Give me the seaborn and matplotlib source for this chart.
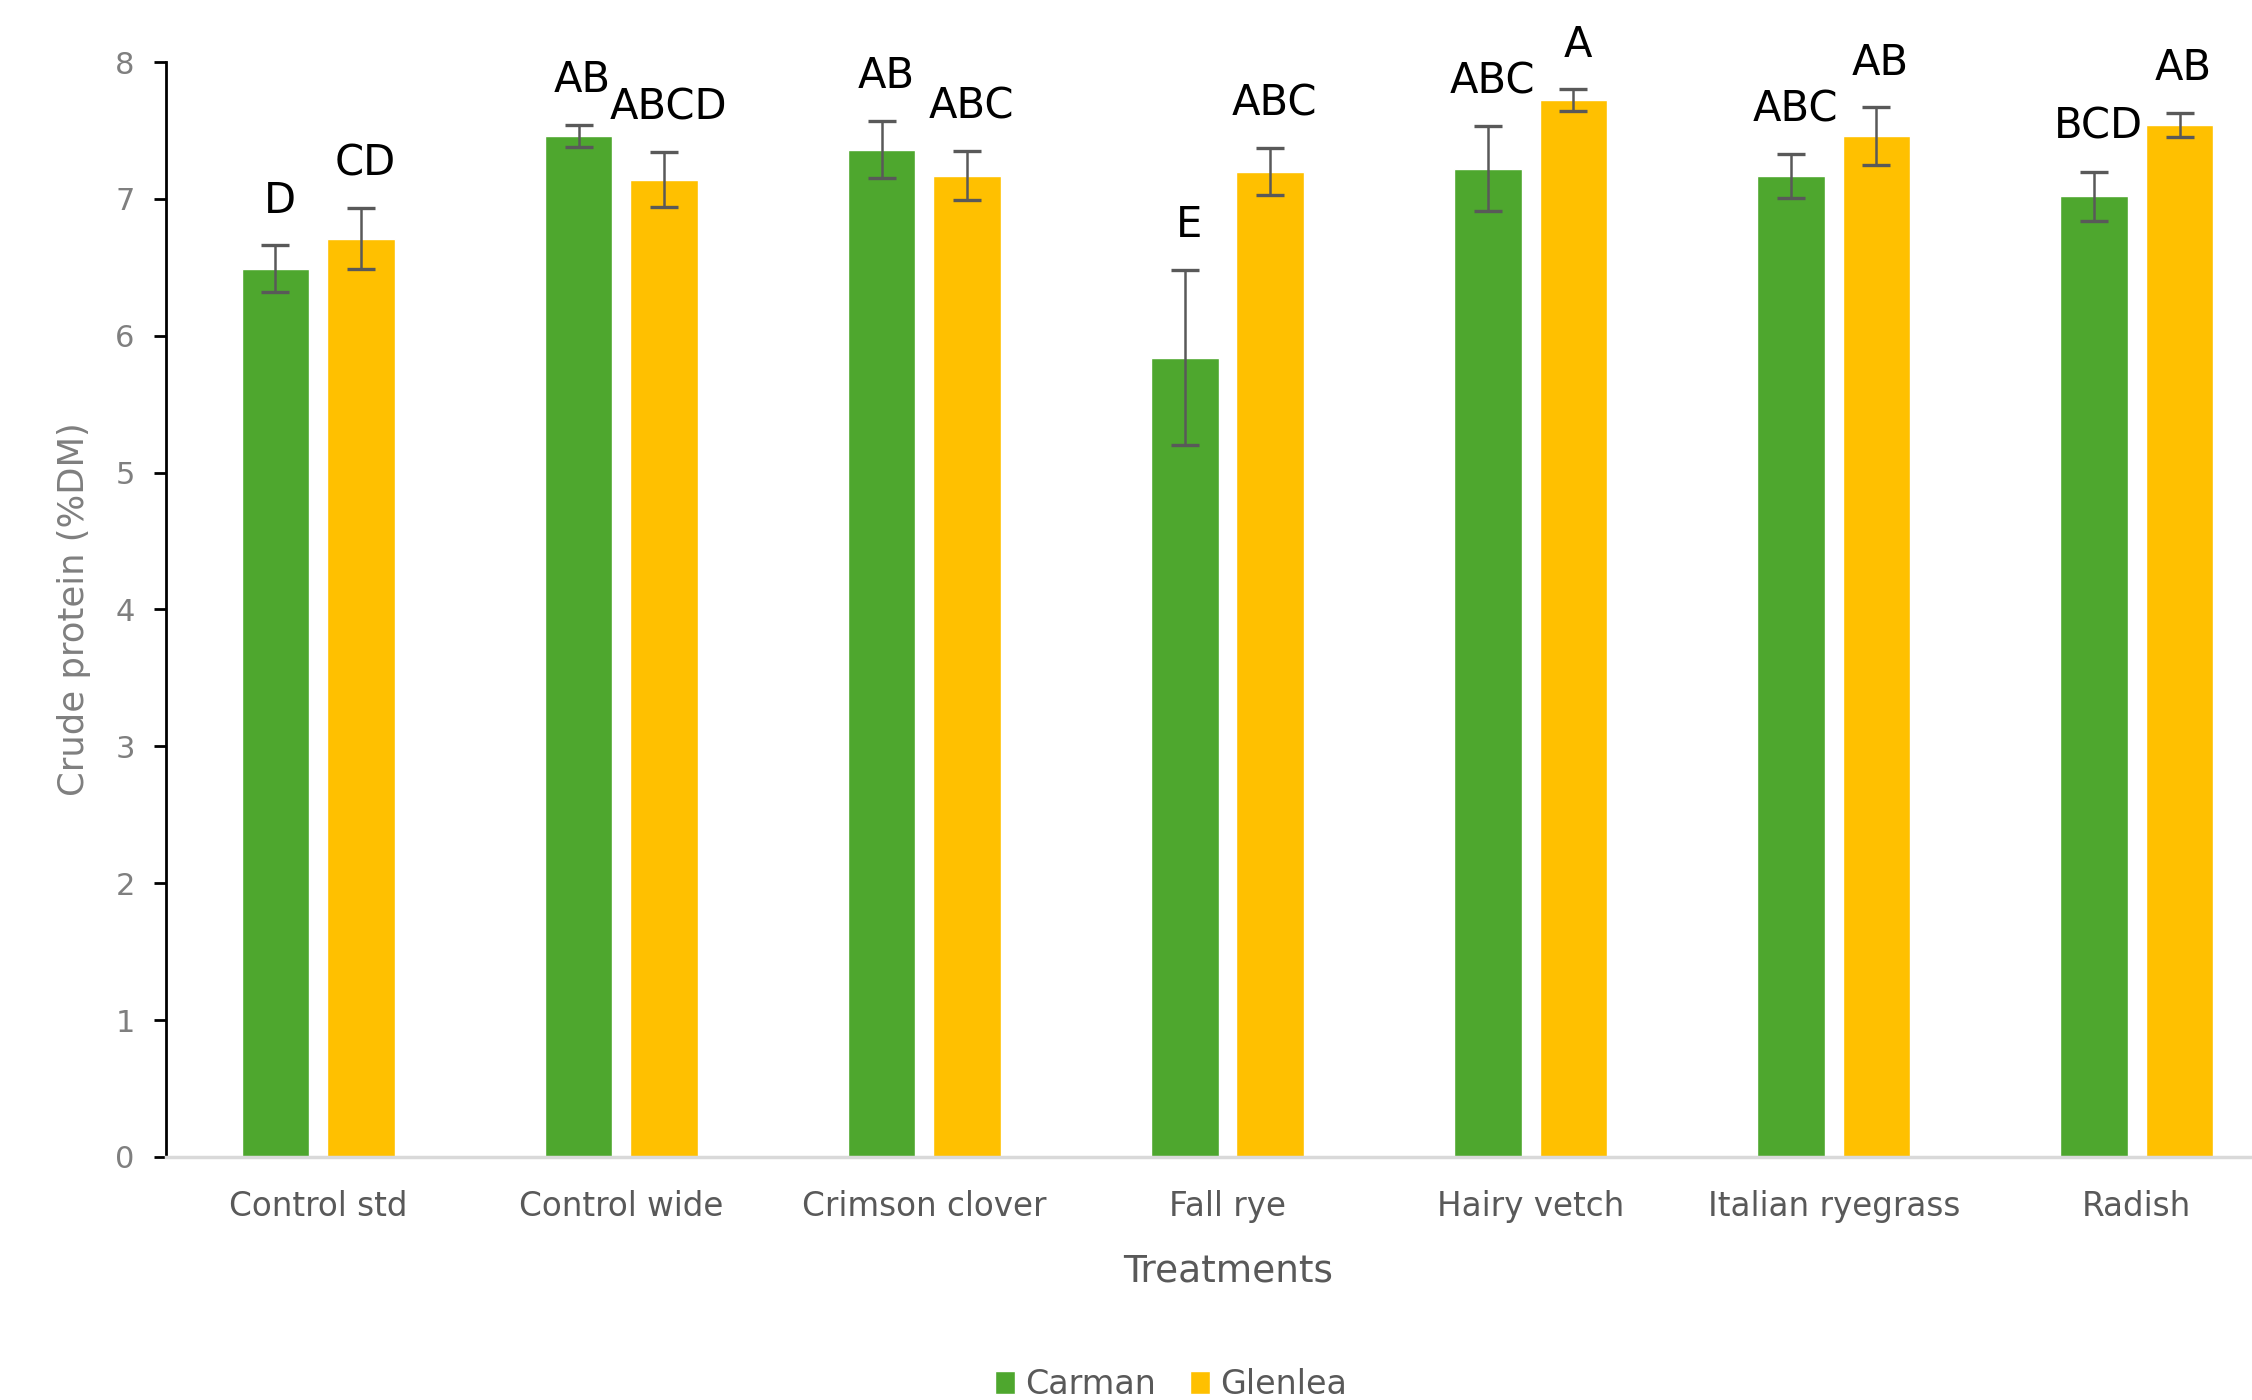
import matplotlib
matplotlib.use("Agg")
import matplotlib.pyplot as plt
import seaborn as sns
import pandas as pd

treatments = ["Control std", "Control wide", "Crimson clover", "Fall rye",
              "Hairy vetch", "Italian ryegrass", "Radish"]
sites = ["Carman", "Glenlea"]
carman_cp = [6.49, 7.46, 7.36, 5.84, 7.22, 7.17, 7.02]
glenlea_cp = [6.71, 7.14, 7.17, 7.20, 7.72, 7.46, 7.54]
carman_err = [0.17, 0.08, 0.21, 0.64, 0.31, 0.16, 0.18]
glenlea_err = [0.22, 0.20, 0.18, 0.17, 0.08, 0.21, 0.09]
carman_letters = ["D", "AB", "AB", "E", "ABC", "ABC", "BCD"]
glenlea_letters = ["CD", "ABCD", "ABC", "ABC", "A", "AB", "AB"]

GREEN = "#4EA72E"
YELLOW = "#FFC000"

df = pd.DataFrame({
    "Treatment": treatments * 2,
    "Site": [sites[0]] * len(treatments) + [sites[1]] * len(treatments),
    "CP": carman_cp + glenlea_cp,
})

sns.set_theme(style="white")
plt.rcParams["font.family"] = ["DejaVu Sans"]

fig = plt.figure(figsize=(22.52, 14), dpi=100)
ax = fig.add_axes([0.0737, 0.1736, 0.9263, 0.7821])

sns.barplot(data=df, x="Treatment", y="CP", hue="Site", order=treatments,
            hue_order=sites, palette=[GREEN, YELLOW], width=0.564, gap=0.21,
            errorbar=None, saturation=1, ax=ax)

errs = [carman_err, glenlea_err]
letters = [carman_letters, glenlea_letters]
bar_containers = list(ax.containers)
for ci, cont in enumerate(bar_containers):
    for bi, bar in enumerate(cont):
        xc = bar.get_x() + bar.get_width() / 2
        h = bar.get_height()
        e = errs[ci][bi]
        ax.errorbar(xc, h, yerr=e, fmt="none", ecolor="#595959",
                    elinewidth=1.8, capsize=10, capthick=2.4, zorder=5)
        ax.annotate(letters[ci][bi], (xc, h + e), xytext=(3, 17),
                    textcoords="offset points", ha="center", va="bottom",
                    fontsize=30, color="black")

ax.set_ylim(0, 8)
ax.set_xlim(-0.502, 6.38)
ax.set_yticks(range(0, 9))

for s in ["top", "right"]:
    ax.spines[s].set_visible(False)
ax.spines["left"].set_color("black")
ax.spines["left"].set_linewidth(2.0)
ax.spines["bottom"].set_color("#D9D9D9")
ax.spines["bottom"].set_linewidth(2.5)

ax.tick_params(axis="y", which="both", left=True, length=8.5, width=2.0,
               color="black", labelsize=22, labelcolor="#7F7F7F", pad=14)
ax.tick_params(axis="x", which="both", bottom=False, length=0,
               labelsize=23.5, labelcolor="#595959", pad=24)

ax.set_ylabel("Crude protein (%DM)", fontsize=25.5, color="#7F7F7F")
ax.yaxis.set_label_coords(-0.036, 0.5)
ax.set_xlabel("Treatments", fontsize=27, color="#595959")
ax.xaxis.set_label_coords(0.509, -0.088)

ax.legend(loc="center", bbox_to_anchor=(0.52, 0.011),
          bbox_transform=fig.transFigure, ncol=2, frameon=False,
          fontsize=24, handlelength=0.6, handleheight=0.7,
          handletextpad=0.3, columnspacing=1.0, labelcolor="#595959")

fig.savefig("out.png", dpi=100)
